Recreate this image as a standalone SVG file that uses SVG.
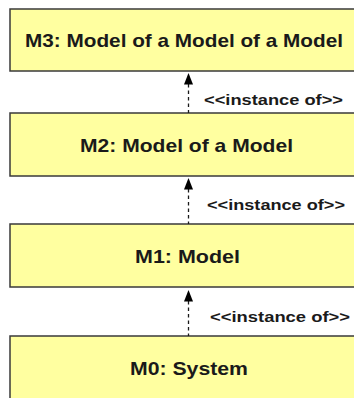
<svg xmlns="http://www.w3.org/2000/svg" width="354" height="398" viewBox="0 0 354 398">
<defs>
<style>
.box{fill:#ffffa0;stroke:#3a3a3a;stroke-width:1.5}
.title{font-family:"Liberation Sans",Arial,sans-serif;font-weight:bold;font-size:19px;fill:#1a1a1a}
.lbl{font-family:"Liberation Sans",Arial,sans-serif;font-weight:bold;font-size:15px;fill:#1a1a1a}
.dash{stroke:#1a1a1a;stroke-width:1.3;stroke-dasharray:3.5,3;fill:none}
.head{fill:#000}
</style>
</defs>
<rect width="354" height="398" fill="#ffffff"/>
<g id="m3">
<rect class="box" x="10" y="9" width="356" height="62"/>
<text class="title" x="25" y="47" textLength="318" lengthAdjust="spacingAndGlyphs">M3: Model of a Model of a Model</text>
</g>
<g id="m2">
<rect class="box" x="10" y="113" width="356" height="63"/>
<text class="title" x="80" y="152" textLength="213" lengthAdjust="spacingAndGlyphs">M2: Model of a Model</text>
</g>
<g id="m1">
<rect class="box" x="10" y="224" width="356" height="63"/>
<text class="title" x="135" y="263" textLength="105" lengthAdjust="spacingAndGlyphs">M1: Model</text>
</g>
<g id="m0">
<rect class="box" x="10" y="336" width="356" height="70"/>
<text class="title" x="130" y="375" textLength="118" lengthAdjust="spacingAndGlyphs">M0: System</text>
</g>
<g id="connectors">
<line class="dash" x1="188.5" y1="84" x2="188.5" y2="113"/>
<polygon class="head" points="188.5,73 184,84.5 193,84.5"/>
<text class="lbl" x="204" y="105" textLength="139" lengthAdjust="spacingAndGlyphs">&lt;&lt;instance of&gt;&gt;</text>
<line class="dash" x1="188.5" y1="189" x2="188.5" y2="224"/>
<polygon class="head" points="188.5,178 184,189.5 193,189.5"/>
<text class="lbl" x="207" y="210" textLength="138" lengthAdjust="spacingAndGlyphs">&lt;&lt;instance of&gt;&gt;</text>
<line class="dash" x1="188.5" y1="301" x2="188.5" y2="336"/>
<polygon class="head" points="188.5,290 184,301.5 193,301.5"/>
<text class="lbl" x="210" y="322" textLength="140" lengthAdjust="spacingAndGlyphs">&lt;&lt;instance of&gt;&gt;</text>
</g>
</svg>
